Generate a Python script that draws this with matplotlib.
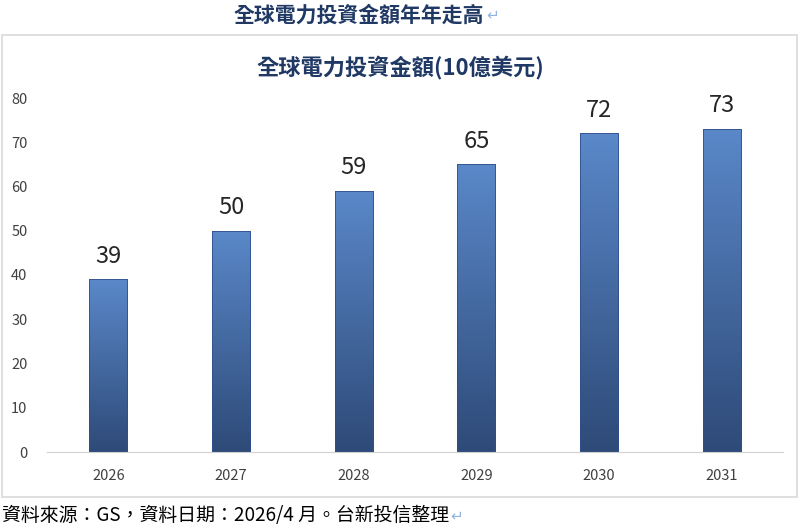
import numpy as np
import matplotlib
matplotlib.use("Agg")
import matplotlib.pyplot as plt
from matplotlib.colors import LinearSegmentedColormap
from matplotlib.patches import Rectangle

plt.rcParams['font.family'] = ['Noto Sans CJK TC', 'DejaVu Sans']

# data
years = ['2026', '2027', '2028', '2029', '2030', '2031']
invest = [39, 50, 59, 65, 72, 73]
yticks = [0, 10, 20, 30, 40, 50, 60, 70, 80]

navy = '#1f3864'
grad = LinearSegmentedColormap.from_list('bar', ['#2e4a78', '#5a88c9'])

fig = plt.figure(figsize=(8, 5.32), dpi=100)

# chart frame
fig.patches.append(Rectangle((2 / 800, 35 / 532), 795 / 800, 462 / 532,
                             transform=fig.transFigure, fill=False,
                             edgecolor='#d9d9d9', linewidth=1.2))

ax = fig.add_axes([47 / 800, 80 / 532, 736 / 800, 354 / 532])
x = np.arange(len(years))
bars = ax.bar(x, invest, width=0.31, color='none', edgecolor='#2f4f8a',
              linewidth=0.6, zorder=3)

# vertical gradient inside each bar
g = np.linspace(0, 1, 256).reshape(-1, 1)
for b in bars:
    x0, y0 = b.get_x(), b.get_y()
    w, h = b.get_width(), b.get_height()
    im = ax.imshow(g, cmap=grad, origin='lower', aspect='auto',
                   extent=[x0, x0 + w, y0, y0 + h], zorder=2)
    im.set_clip_path(b)

for xi, v in zip(x, invest):
    ax.text(xi, v + 2.6, str(v), ha='center', va='bottom',
            fontsize=17, color='#262626')

ax.set_xlim(-0.5, len(years) - 0.5)
ax.set_ylim(0, 80)
ax.set_xticks(x)
ax.set_xticklabels(years)
ax.set_yticks(yticks)
ax.tick_params(axis='both', length=0, labelsize=10.5, colors='#404040')
ax.tick_params(axis='x', pad=12)
ax.tick_params(axis='y', pad=14)
for s in ['top', 'right', 'left']:
    ax.spines[s].set_visible(False)
ax.spines['bottom'].set_color('#d0d0d0')
ax.spines['bottom'].set_zorder(4)

fig.text(400 / 800, 1 - 68 / 532, '全球電力投資金額(10億美元)', ha='center',
         va='center', fontsize=16, fontweight='bold', color=navy)

t1 = fig.text(234 / 800, 1 - 15 / 532, '全球電力投資金額年年走高', ha='left',
              va='center', fontsize=15, fontweight='bold', color=navy)
t2 = fig.text(2 / 800, 1 - 516 / 532, '資料來源：GS，資料日期：2026/4 月。台新投信整理',
              ha='left', va='center', fontsize=13.6, color='black')

# little return marks right after both texts
fig.canvas.draw()
r = fig.canvas.get_renderer()
for t in (t1, t2):
    bb = t.get_window_extent(r)
    fig.text(bb.x1 / 800 + 0.002, t.get_position()[1], '↵', ha='left',
             va='center', fontsize=11, color='#8fb4e3', family=['DejaVu Sans'])

fig.savefig('out.png', dpi=100, facecolor='white')
